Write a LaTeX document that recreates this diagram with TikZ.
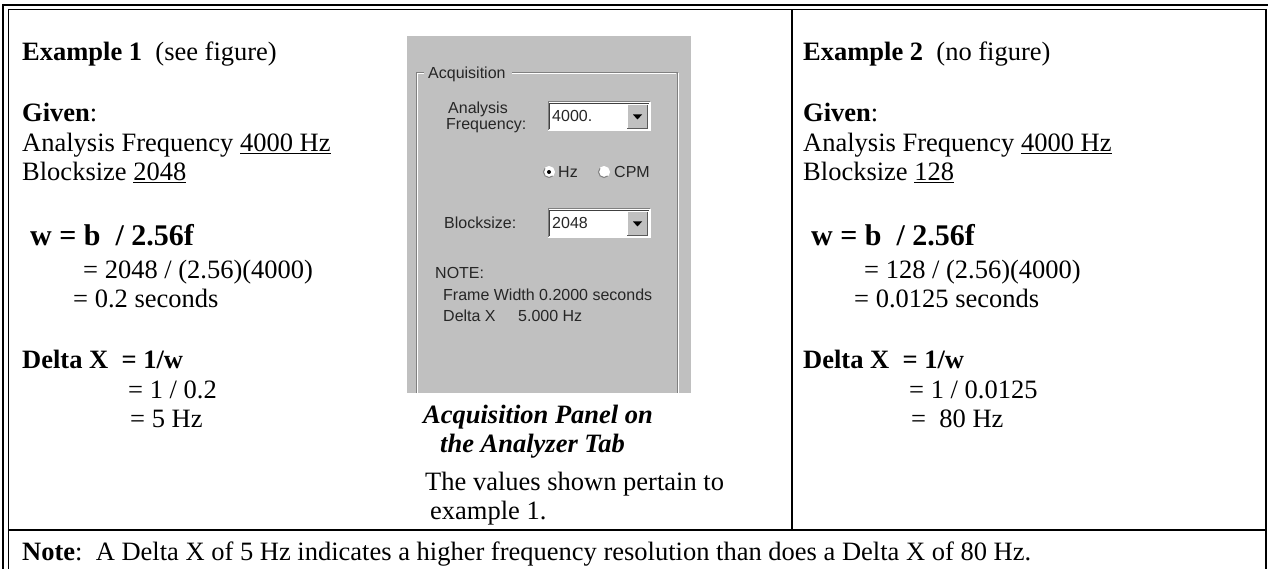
\documentclass[tikz,border=0pt]{standalone}
\usepackage{fontspec}
\setmainfont{Liberation Serif}
\newfontfamily\uifont{Liberation Sans}

% combo box of the dialog: name, left x, top y, shown value
\newcommand\uicombo[4]{%
  \fill[white] (#2,#3) rectangle (#2+102,#3+29);
  \draw[sunkdark] (#2,#3+29) -- (#2,#3) -- (#2+102,#3);
  \draw[sunkdeep] (#2+1.5,#3+27.5) -- (#2+1.5,#3+1.5) -- (#2+100.5,#3+1.5);
  \draw[sunklight] (#2,#3+29) -- (#2+102,#3+29) -- (#2+102,#3);
  \fill[panel] (#2+79,#3+3) rectangle (#2+99.5,#3+26.5);
  \draw[raiselight] (#2+79,#3+26.5) -- (#2+79,#3+3) -- (#2+99.5,#3+3);
  \draw[raisedark] (#2+79,#3+26.5) -- (#2+99.5,#3+26.5) -- (#2+99.5,#3+3);
  \fill[black] (#2+85,#3+12.5) -- (#2+94,#3+12.5) -- (#2+89.5,#3+17.5) -- cycle;
  \node[ui] (#1) at (#2+4,#3+20) {#4};
}
% radio button: name, centre x, centre y, selected?
\newcommand\uiradio[4]{%
  \fill[white] (#2,#3) circle (5.5);
  \draw[sunkdark] (#2,#3) ++(45:5.5) arc (45:225:5.5);
  \draw[sunklight] (#2,#3) ++(225:5.5) arc (225:405:5.5);
  \ifx#4y\fill[black] (#2,#3) circle (2);\fi
  \coordinate (#1) at (#2,#3);
}

\begin{document}
\begin{tikzpicture}[x=1pt,y=-1pt,
  txt/.style={anchor=base west, inner sep=0pt, font=\fontsize{26.5}{30}\selectfont},
  frm/.style={anchor=base west, inner sep=0pt, font=\fontsize{30}{34}\selectfont\bfseries},
  captxt/.style={anchor=base west, inner sep=0pt, font=\fontsize{26.5}{30}\selectfont\bfseries\itshape},
  ui/.style={anchor=base west, inner sep=0pt, font=\uifont\fontsize{16}{18}\selectfont, text=black!85},
  outerrule/.style={line width=2pt},
  innerrule/.style={line width=1.5pt},
  cellrule/.style={line width=2.5pt},
  panel/.style={fill={rgb,255:red,192;green,192;blue,192}},
  sunkdark/.style={draw={rgb,255:red,128;green,128;blue,128}, line width=1pt},
  sunkdeep/.style={draw={rgb,255:red,64;green,64;blue,64}, line width=1pt},
  sunklight/.style={draw=white, line width=1pt},
  raiselight/.style={draw=white, line width=1pt},
  raisedark/.style={draw={rgb,255:red,90;green,90;blue,90}, line width=1pt},
  etchdark/.style={draw={rgb,255:red,128;green,128;blue,128}, line width=1pt},
  etchlight/.style={draw=white, line width=1pt},
]
\useasboundingbox (0,0) rectangle (1268,569);
\fill[white] (0,0) rectangle (1268,569);

% ---- table frame ----
\draw[outerrule] (2,5) -- (1268,5);
\draw[outerrule] (3,4) -- (3,569);
\draw[innerrule] (8.5,9.5) -- (1266,9.5);
\draw[innerrule] (8.5,9) -- (8.5,569);
\draw[outerrule] (1266,9) -- (1266,569);
\draw[cellrule] (792,9.5) -- (792,530);
\draw[cellrule] (8.5,530) -- (1266,530);

% ---- example 1 ----
\node[txt] (ex1) at (22,61) {\textbf{Example 1}\ \ (see figure)};
\node[txt] (giv1) at (22,122) {\textbf{Given}:};
\node[txt] (af1) at (22,152) {Analysis Frequency \underline{4000 Hz}};
\node[txt] (bs1) at (22,181) {Blocksize \underline{2048}};
\node[frm] (w1) at (30,246) {w = b\ \ / 2.56f};
\node[txt] (w1a) at (83,278) {= 2048 / (2.56)(4000)};
\node[txt] (w1b) at (73,307) {= 0.2 seconds};
\node[txt] (dx1) at (22,368) {\textbf{Delta X\ \ = 1/w}};
\node[txt] (dx1a) at (128,398) {= 1 / 0.2};
\node[txt] (dx1b) at (130,427) {= 5 Hz};

% ---- example 2 ----
\node[txt] (ex2) at (803,61) {\textbf{Example 2}\ \ (no figure)};
\node[txt] (giv2) at (803,122) {\textbf{Given}:};
\node[txt] (af2) at (803,152) {Analysis Frequency \underline{4000 Hz}};
\node[txt] (bs2) at (803,181) {Blocksize \underline{128}};
\node[frm] (w2) at (811,246) {w = b\ \ / 2.56f};
\node[txt] (w2a) at (864,278) {= 128 / (2.56)(4000)};
\node[txt] (w2b) at (854,307) {= 0.0125 seconds};
\node[txt] (dx2) at (803,368) {\textbf{Delta X\ \ = 1/w}};
\node[txt] (dx2a) at (909,398) {= 1 / 0.0125};
\node[txt] (dx2b) at (911,427) {=\ \ 80 Hz};

% ---- acquisition panel of the analyzer tab ----
\fill[panel] (407,36) rectangle (691,393);
\draw[etchdark] (416,393) -- (416,73) -- (424,73);
\draw[etchdark] (512,73) -- (677,73) -- (677,393);
\draw[etchlight] (417,393) -- (417,74) -- (424,74);
\draw[etchlight] (512,74) -- (676,74);
\draw[etchlight] (678,73) -- (678,393);
\node[ui] (acq) at (428,79) {Acquisition};
\node[ui] (anl) at (448,114) {Analysis};
\node[ui] (frq) at (446,130) {Frequency:};
\uicombo{afbox}{548}{102}{4000.}
\uiradio{hzdot}{549}{172}{y}
\node[ui] (hz) at (558,178) {Hz};
\uiradio{cpmdot}{604}{172}{n}
\node[ui] (cpm) at (614,178) {CPM};
\node[ui] (bsl) at (444,229) {Blocksize:};
\uicombo{bsbox}{548}{209}{2048}
\node[ui] (nte) at (435,279) {NOTE:};
\node[ui] (fw) at (443,300) {Frame Width 0.2000 seconds};
\node[ui] (dxl) at (443,321) {Delta X};
\node[ui] (dxv) at (518,321) {5.000 Hz};

% ---- caption ----
\node[captxt] (cap1) at (423,423) {Acquisition Panel on};
\node[captxt] (cap2) at (440,452) {the Analyzer Tab};
\node[txt] (val1) at (425,490) {The values shown pertain to};
\node[txt] (val2) at (430,519) {example 1.};

% ---- note row ----
\node[txt] (note) at (22,560) {\textbf{Note}:\ \ A Delta X of 5 Hz indicates a higher frequency resolution than does a Delta X of 80 Hz.};
\end{tikzpicture}
\end{document}
